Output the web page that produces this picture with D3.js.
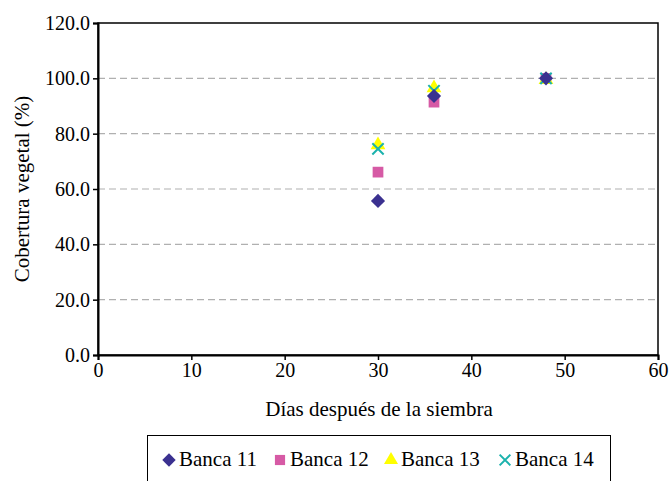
<!DOCTYPE html>
<html><head><meta charset="utf-8">
<script src="https://cdn.jsdelivr.net/npm/d3@7"></script>
<style>body{margin:0;background:#fff}svg{display:block}text{font-family:"Liberation Serif","Times New Roman",serif}</style>
</head><body>
<script>
const days = [30, 36, 48];
const series = ["Banca 11", "Banca 12", "Banca 13", "Banca 14"];
const banca11 = [55.7, 93.6, 100.0];
const banca12 = [66.1, 91.4, 100.0];
const banca13 = [75.9, 96.5, 99.5];
const banca14 = [74.5, 95.5, 100.0];
const xTicks = [0, 10, 20, 30, 40, 50, 60];
const yTicks = [0, 20, 40, 60, 80, 100, 120];

const W = 672, H = 481;
const m = {l: 98, r: 14, t: 23, b: 126};
const FS = 20, FL = 21;
const svg = d3.select("body").append("svg").attr("width", W).attr("height", H);
const x = d3.scaleLinear().domain([0, 60]).range([m.l, W - m.r]);
const y = d3.scaleLinear().domain([0, 120]).range([H - m.b, m.t]);

// gridlines
svg.append("g").selectAll("line").data(yTicks.filter(v => v > 0 && v < 120)).join("line")
  .attr("x1", x(0)).attr("x2", x(60)).attr("y1", d => y(d)).attr("y2", d => y(d))
  .attr("stroke", "#b0b0b0").attr("stroke-width", 1.2).attr("stroke-dasharray", "7,4");

// plot border
svg.append("rect").attr("x", x(0)).attr("y", y(120)).attr("width", x(60) - x(0)).attr("height", y(0) - y(120))
  .attr("fill", "none").attr("stroke", "#000").attr("stroke-width", 1.5);

const yAxis = svg.append("g").attr("transform", `translate(${x(0)},0)`)
  .call(d3.axisLeft(y).tickValues(yTicks).tickFormat(d3.format(".1f")).tickSize(5).tickPadding(3));
const xAxis = svg.append("g").attr("transform", `translate(0,${y(0)})`)
  .call(d3.axisBottom(x).tickValues(xTicks).tickSize(5).tickPadding(3));
[yAxis, xAxis].forEach(a => {
  a.select(".domain").attr("stroke", "#000").attr("stroke-width", 2);
  a.selectAll(".tick line").attr("stroke", "#000").attr("stroke-width", 1.5);
  a.selectAll("text").attr("font-size", FS).attr("fill", "#000").attr("font-family", "Liberation Serif");
});

svg.append("text").attr("transform", `translate(29,${(y(0) + y(120)) / 2}) rotate(-90)`)
  .attr("text-anchor", "middle").attr("font-size", FL).text("Cobertura vegetal (%)");
svg.append("text").attr("x", 379).attr("y", 416).attr("text-anchor", "middle").attr("font-size", FL)
  .text("Días después de la siembra");

const styles = [
  {data: banca11, color: "#3b3190", sym: "diamond", size: 100},
  {data: banca12, color: "#d65aa5", sym: d3.symbolSquare, size: 115},
  {data: banca13, color: "#ffff00", sym: d3.symbolTriangle, size: 95},
  {data: banca14, color: "#1bb2ad", sym: "x", size: 85}
];
function drawSym(g, s) {
  if (s.sym === "x") {
    g.append("path").attr("d", d3.symbol(d3.symbolTimes, s.size)()).attr("fill", "none")
      .attr("stroke", s.color).attr("stroke-width", 2);
  } else if (s.sym === "diamond") {
    g.append("path").attr("d", d3.symbol(d3.symbolSquare, s.size)()).attr("transform", "rotate(45)").attr("fill", s.color);
  } else {
    g.append("path").attr("d", d3.symbol(s.sym, s.size)()).attr("fill", s.color);
  }
}
[1, 2, 3, 0].forEach(i => {
  const s = styles[i];
  s.data.forEach((v, j) => {
    const g = svg.append("g").attr("transform", `translate(${x(days[j])},${y(v)})`);
    drawSym(g, s);
  });
});

// legend
svg.append("rect").attr("x", 147.5).attr("y", 435.5).attr("width", 463).attr("height", 50)
  .attr("fill", "#fff").attr("stroke", "#000").attr("stroke-width", 1);
const lx = [169, 280, 391, 505];
series.forEach((name, i) => {
  const g = svg.append("g").attr("transform", `translate(${lx[i]},460)`);
  const s = Object.assign({}, styles[i], {size: styles[i].size * 0.9});
  drawSym(g, s);
  svg.append("text").attr("x", lx[i] + 10).attr("y", 466).attr("font-size", FL).text(name);
});
</script>
</body></html>
